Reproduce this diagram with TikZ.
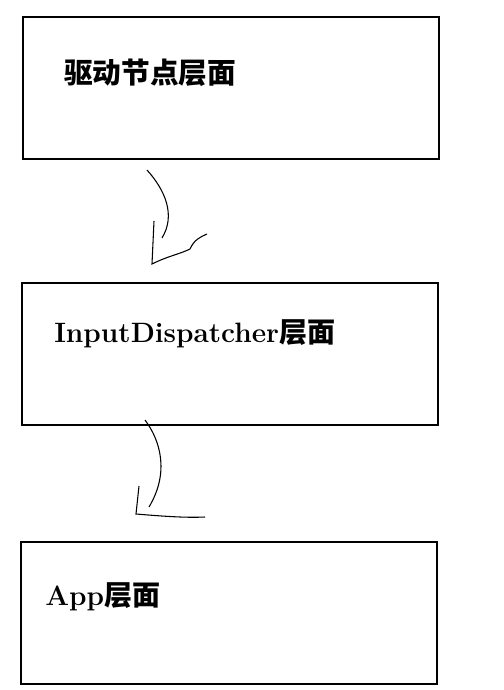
\documentclass[tikz,border=0pt]{standalone}
\usepackage{fontspec}
\newfontfamily\cjk{Noto Sans CJK SC}
\usepackage{tikz}
\usetikzlibrary{positioning}

\tikzset{
  layerbox/.style={draw, line width=1.9pt, minimum width=416*0.75pt, minimum height=142*0.75pt, inner sep=0pt},
  layertext/.style={anchor=west, inner sep=0pt, font=\fontsize{21}{25}\selectfont\bfseries},
  scribble/.style={line width=0.8pt}
}

\begin{document}
\begin{tikzpicture}[x=0.75pt,y=0.75pt,yscale=-1,xscale=1]
\useasboundingbox (0,0) rectangle (504,690);

%Shape: Rectangle [driver]
\node[layerbox] (driver) at (231,88) {};
%Shape: Rectangle [dispatch]
\node[layerbox] (dispatch) at (230,354) {};
%Shape: Rectangle [app]
\node[layerbox] (app) at (229,613) {};

% Text Node
\node[layertext] (drivertext) at (64,73) {\cjk\fontsize{21.5}{25}\selectfont 驱动节点层面};
% Text Node
\node[layertext] (dispatchtext) at (54,334) {InputDispatcher{\cjk 层面}};
% Text Node
\node[layertext] (apptext) at (45,597) {App{\cjk 层面}};

%Curve Lines [driver -> dispatch]
\coordinate (d1) at (147,170);
\coordinate (d2) at (162,238);
\coordinate (h1) at (154,221);
\coordinate (h2) at (152,264);
\coordinate (h3) at (207,234);
\draw[scribble] (d1) .. controls (165,190) and (176,215) .. (d2);
\draw[scribble] (h1) -- (h2) .. controls (168,256) and (180,254) .. (190,249) .. controls (194,240) and (200,237) .. (h3);

%Curve Lines [dispatch -> app]
\coordinate (e1) at (145,420);
\coordinate (e2) at (149,507);
\coordinate (k1) at (139,486);
\coordinate (k2) at (136,514);
\coordinate (k3) at (205,517);
\draw[scribble] (e1) .. controls (160,440) and (170,472) .. (e2);
\draw[scribble] (k1) -- (k2) .. controls (160,516) and (185,518) .. (k3);

\end{tikzpicture}
\end{document}
